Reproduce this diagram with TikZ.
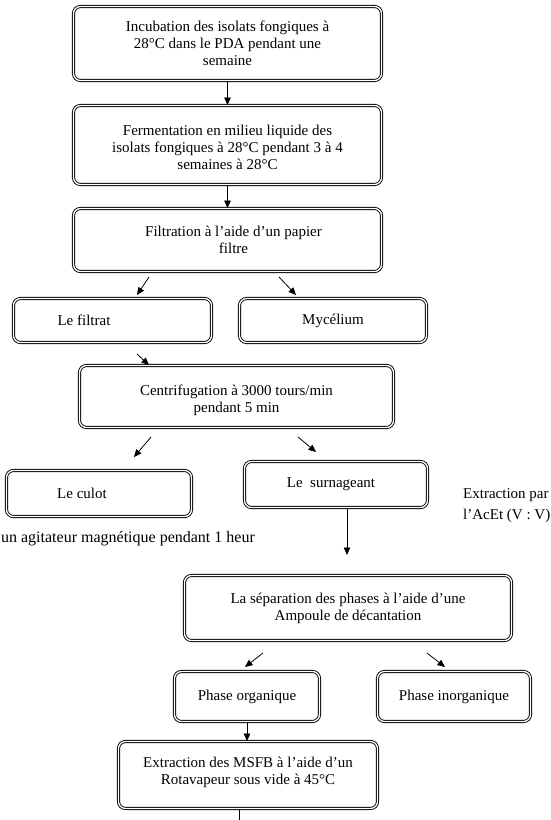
\documentclass[tikz,border=0pt]{standalone}
\usepackage{fontspec}
\setmainfont{Liberation Serif}
\usetikzlibrary{arrows.meta}
\newcommand\movetxt[2]{\raisebox{-#1}[\height][\depth]{\begin{tabular}{@{}c@{}}#2\end{tabular}}}
\begin{document}
\begin{tikzpicture}[x=1pt,y=-1pt,
  box/.style={draw, rounded corners=7pt, line width=0.9pt, double=white,
    double distance=1.3pt, align=center, inner sep=0pt,
    font=\fontsize{15}{17}\selectfont},
  arr/.style={-{Triangle[length=7.5pt,width=6.5pt]}, line width=0.8pt},
  plain/.style={line width=0.8pt},
  free/.style={inner sep=0pt, font=\fontsize{15}{17}\selectfont}]
\fill[white] (0,0) rectangle (550,820);
\useasboundingbox (0,0) rectangle (550,820);

\node[box, minimum width=308pt, minimum height=74pt] (inc) at (227.5,43.5)
  {\movetxt{2pt}{Incubation des isolats fongiques à\\28°C dans le PDA pendant une\\semaine}};
\node[box, minimum width=308pt, minimum height=79pt] (ferm) at (227.5,145)
  {\movetxt{4pt}{Fermentation en milieu liquide des\\isolats fongiques à 28°C pendant 3 à 4\\semaines à 28°C}};
\node[box, minimum width=308pt, minimum height=63pt] (filt) at (227.5,240)
  {\movetxt{2pt}{\hspace{12pt}Filtration à l’aide d’un papier\\\hspace{12pt}filtre}};
\node[box, minimum width=198pt, minimum height=44pt] (filtrat) at (112.5,320.5)
  {Le filtrat\hspace{57pt}};
\node[box, minimum width=187pt, minimum height=44pt] (myc) at (333,320.5)
  {Mycélium};
\node[box, minimum width=314pt, minimum height=62pt] (centri) at (236.5,396.5)
  {\movetxt{4pt}{Centrifugation à 3000 tours/min\\pendant 5 min}};
\node[box, minimum width=185pt, minimum height=46pt] (culot) at (99,493.5)
  {Le culot\hspace{34pt}};
\node[box, minimum width=183pt, minimum height=46pt] (surn) at (336,484.5)
  {Le\ \ surnageant\hspace{10pt}};
\node[free, anchor=base west] (ext1) at (463,498) {Extraction par};
\node[free, anchor=base west] (ext2) at (463,519) {l’AcEt (V : V)};
\node[free, anchor=base east, font=\fontsize{16}{18}\selectfont] (agit) at (255,542)
  {un agitateur magnétique pendant 1 heur};
\node[box, minimum width=327pt, minimum height=65pt] (sep) at (348,608)
  {La séparation des phases à l’aide d’une\\Ampoule de décantation};
\node[box, minimum width=145pt, minimum height=50pt] (org) at (247,696.5)
  {Phase organique};
\node[box, minimum width=153pt, minimum height=50pt] (inorg) at (454,696.5)
  {Phase inorganique};
\node[box, minimum width=259pt, minimum height=67pt] (msfb) at (248,775)
  {\movetxt{-2pt}{Extraction des MSFB à l’aide d’un\\Rotavapeur sous vide à 45°C}};

% free ends of the short arrows
\coordinate (f1s) at (149,277); \coordinate (f1e) at (137,295);
\coordinate (f2s) at (279,277); \coordinate (f2e) at (296,295);
\coordinate (f3s) at (137,354); \coordinate (f3e) at (149,365);
\coordinate (c1s) at (151,437); \coordinate (c1e) at (134,457);
\coordinate (c2s) at (298,437); \coordinate (c2e) at (316,452);
\coordinate (s1s) at (347,509); \coordinate (s1e) at (347,555);
\coordinate (p1s) at (263,653); \coordinate (p1e) at (245,667);
\coordinate (p2s) at (427,653); \coordinate (p2e) at (445,667);
\coordinate (m1s) at (239,810); \coordinate (m1e) at (239,820);

\draw[arr] (inc.south) -- (ferm.north);
\draw[arr] (ferm.south) -- (filt.north);
\draw[arr] (f1s) -- (f1e);
\draw[arr] (f2s) -- (f2e);
\draw[arr] (f3s) -- (f3e);
\draw[arr] (c1s) -- (c1e);
\draw[arr] (c2s) -- (c2e);
\draw[arr] (s1s) -- (s1e);
\draw[arr] (p1s) -- (p1e);
\draw[arr] (p2s) -- (p2e);
\draw[arr] (org.south) -- (org.south |- msfb.north);
\draw[plain] (m1s) -- (m1e);
\end{tikzpicture}
\end{document}
